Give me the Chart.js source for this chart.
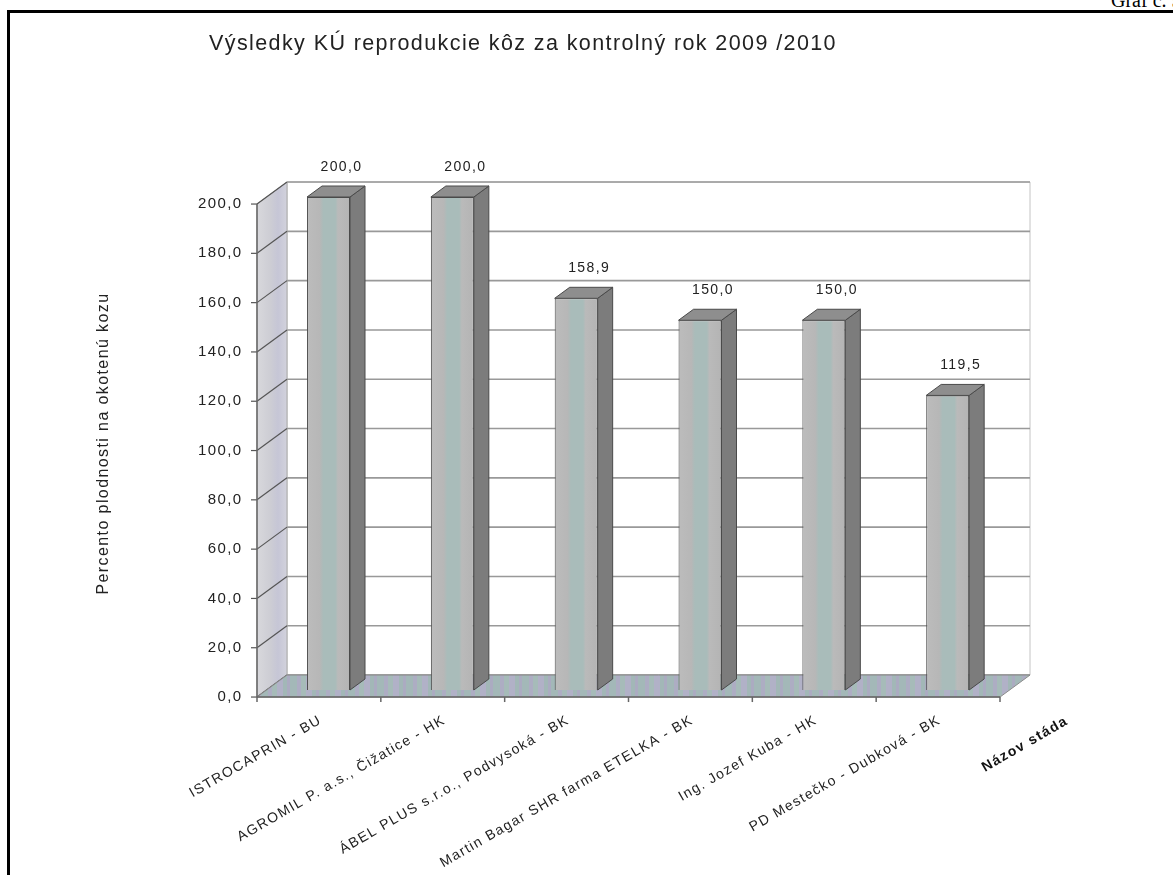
<!DOCTYPE html>
<html>
<head>
<meta charset="utf-8">
<script src="https://cdn.jsdelivr.net/npm/chart.js@4.4.0/dist/chart.umd.min.js"></script>
<style>
  html, body { margin: 0; padding: 0; background: #fff; }
  body { width: 1173px; height: 875px; position: relative; overflow: hidden; }
  #frame { position: absolute; left: 7px; top: 10px; width: 1170px; height: 870px;
           border-top: 3px solid #000; border-left: 3px solid #000; }
  #graf { position: absolute; left: 1111px; top: -10px; font: 20px 'Liberation Serif', 'Times New Roman', serif;
          line-height: 20px; white-space: nowrap; color: #000; }
  #chart { position: absolute; left: 0; top: 0; }
</style>
</head>
<body>
<div id="frame"></div>
<div id="graf">Graf č. 5</div>
<canvas id="chart" width="1173" height="875"></canvas>
<script>
const herds = [
    'ISTROCAPRIN - BU',
    'AGROMIL P. a.s., Čižatice - HK',
    'ÁBEL PLUS s.r.o., Podvysoká - BK',
    'Martin Bagar SHR farma ETELKA - BK',
    'Ing. Jozef Kuba - HK',
    'PD Mestečko - Dubková - BK'
];
const fertility = [200.0, 200.0, 158.9, 150.0, 150.0, 119.5];
const yTickValues = [0, 20, 40, 60, 80, 100, 120, 140, 160, 180, 200];

// 3D box: full depth vector, plane where the bars' front faces sit, bar depth
const depth = { x: 30, y: -22 };
const barPlane = 0.32;
const barDepth = 0.5;
const barPct = 0.347;

const fmt = v => v.toFixed(1).replace('.', ',');

Chart.defaults.font.family = "'Liberation Sans', Arial, sans-serif";
Chart.defaults.color = '#222';

function stripes(ctx, list) {
    const c = document.createElement('canvas');
    c.width = list.reduce((s, p) => s + p[1], 0);
    c.height = 1;
    const g = c.getContext('2d');
    let x = 0;
    list.forEach(([col, w]) => { g.fillStyle = col; g.fillRect(x, 0, w, 1); x += w; });
    return ctx.createPattern(c, 'repeat');
}

function poly(ctx, pts, fill, stroke) {
    ctx.beginPath();
    pts.forEach((p, i) => i ? ctx.lineTo(p[0], p[1]) : ctx.moveTo(p[0], p[1]));
    ctx.closePath();
    if (fill) { ctx.fillStyle = fill; ctx.fill(); }
    if (stroke) { ctx.strokeStyle = stroke; ctx.stroke(); }
}

function line(ctx, x1, y1, x2, y2) {
    ctx.beginPath();
    ctx.moveTo(x1, y1);
    ctx.lineTo(x2, y2);
    ctx.stroke();
}

const box3d = {
    id: 'box3d',
    beforeDraw(chart) {
        chart.ctx.letterSpacing = '1.4px';
    },
    beforeDatasetsDraw(chart) {
        const { ctx, chartArea: a, scales: { x, y } } = chart;
        const fx = -barPlane * depth.x, fy = -barPlane * depth.y;
        const bx = (1 - barPlane) * depth.x, by = (1 - barPlane) * depth.y;
        const fl = a.left + fx, fr = a.right + fx;
        const bl = a.left + bx, br = a.right + bx;
        const y0 = y.getPixelForValue(0);
        const yTop = y.getPixelForValue(yTickValues[yTickValues.length - 1]);

        ctx.save();
        ctx.lineWidth = 1;

        // back wall
        poly(ctx, [[bl, yTop + by], [br, yTop + by], [br, y0 + by], [bl, y0 + by]], '#fff', '#c4c4c4');
        ctx.strokeStyle = '#999';
        ctx.lineWidth = 1.6;
        yTickValues.forEach(v => {
            const py = y.getPixelForValue(v) + by;
            line(ctx, bl, py, br, py);
        });

        // left wall
        const wall = ctx.createLinearGradient(fl, 0, bl, 0);
        wall.addColorStop(0, '#d8d8dc');
        wall.addColorStop(0.45, '#cdcdd4');
        wall.addColorStop(0.7, '#c6c6d6');
        wall.addColorStop(1, '#d2d2dc');
        ctx.lineWidth = 1;
        poly(ctx, [[fl, y0 + fy], [fl, yTop + fy], [bl, yTop + by], [bl, y0 + by]], wall, '#aaaaaa');
        ctx.strokeStyle = '#555';
        ctx.lineWidth = 1.2;
        yTickValues.forEach(v => {
            const py = y.getPixelForValue(v);
            line(ctx, fl, py + fy, bl, py + by);
            line(ctx, fl - 6, py + fy, fl, py + fy);
        });

        // floor
        const floor = stripes(ctx, [['#a3b8b8', 7], ['#adadc3', 4], ['#a6bbb9', 5], ['#b1b1c7', 6], ['#a2b7b7', 4], ['#ababc1', 3]]);
        ctx.lineWidth = 1;
        poly(ctx, [[fl, y0 + fy], [fr, y0 + fy], [br, y0 + by], [bl, y0 + by]], floor, '#8a8a8a');

        // front axis lines and category ticks
        ctx.strokeStyle = '#666';
        ctx.lineWidth = 1.5;
        line(ctx, fl, yTop + fy, fl, y0 + fy);
        line(ctx, fl, y0 + fy, fr, y0 + fy);
        const cw = (a.right - a.left) / herds.length;
        for (let i = 0; i <= herds.length; i++) {
            const px = x.getPixelForValue(0) - cw / 2 + i * cw + fx;
            line(ctx, px, y0 + fy, px, y0 + fy + 5);
        }
        ctx.restore();
    },
    afterDatasetsDraw(chart) {
        const { ctx, chartArea: a } = chart;
        const meta = chart.getDatasetMeta(0);
        const dx = barDepth * depth.x, dy = barDepth * depth.y;
        ctx.save();
        ctx.lineWidth = 1;
        meta.data.forEach((bar, i) => {
            const l = bar.x - bar.width / 2, r = bar.x + bar.width / 2;
            const t = bar.y, b = bar.base;
            poly(ctx, [[r, t], [r + dx, t + dy], [r + dx, b + dy], [r, b]], '#7c7c7c', '#4a4a4a');
            poly(ctx, [[l, t], [r, t], [r + dx, t + dy], [l + dx, t + dy]], '#8e8e8e', '#4a4a4a');

            ctx.fillStyle = '#222';
            ctx.font = "14px 'Liberation Sans', Arial, sans-serif";
            ctx.textAlign = 'center';
            ctx.textBaseline = 'middle';
            ctx.fillText(fmt(fertility[i]), bar.x + dx - 2, t - 30);
        });

        // category axis title, slanted like the labels
        ctx.translate(a.right + 54, a.bottom + 24);
        ctx.rotate(-Math.PI / 6);
        ctx.font = "bold 14px 'Liberation Sans', Arial, sans-serif";
        ctx.textAlign = 'right';
        ctx.textBaseline = 'top';
        ctx.fillStyle = '#111';
        ctx.fillText('Názov stáda', 0, 0);
        ctx.restore();
    }
};

const ctx = document.getElementById('chart').getContext('2d');
const fertilityChart = new Chart(ctx, {
    type: 'bar',
    data: {
        labels: herds,
        datasets: [{
            label: 'Percento plodnosti',
            data: fertility,
            backgroundColor: function (c) {
                const chart = c.chart;
                const a = chart.chartArea;
                if (!a || c.dataIndex === undefined) {
                    return '#b8b8b8';
                }
                const cx = chart.scales.x.getPixelForValue(c.dataIndex);
                const w = (a.right - a.left) / herds.length * barPct;
                const g = chart.ctx.createLinearGradient(cx - w / 2, 0, cx + w / 2, 0);
                g.addColorStop(0, '#bcbcbc');
                g.addColorStop(0.3, '#b7b7b7');
                g.addColorStop(0.38, '#a9bcba');
                g.addColorStop(0.66, '#a9bcba');
                g.addColorStop(0.72, '#bababa');
                g.addColorStop(1, '#b4b4b4');
                return g;
            },
            borderColor: '#4a4a4a',
            borderWidth: 1,
            categoryPercentage: 1,
            barPercentage: barPct
        }]
    },
    options: {
        responsive: false,
        animation: false,
        layout: {
            padding: { left: 36.4, right: 163.4, top: 0, bottom: 0 }
        },
        plugins: {
            legend: { display: false },
            tooltip: { enabled: false },
            title: {
                display: true,
                text: 'Výsledky KÚ reprodukcie kôz za kontrolný rok 2009 /2010',
                font: { size: 21.5, weight: 'normal' },
                color: '#222',
                padding: { top: 31, bottom: 140.2 }
            }
        },
        scales: {
            x: {
                grid: { display: false },
                border: { display: false },
                ticks: {
                    autoSkip: false,
                    minRotation: 30,
                    maxRotation: 30,
                    padding: 14,
                    labelOffset: -8,
                    font: { size: 14 },
                    color: '#222'
                },
                afterFit: function (s) { s.height = 185; }
            },
            y: {
                min: 0,
                max: 200,
                afterBuildTicks: function (s) {
                    s.ticks = yTickValues.map(v => ({ value: v }));
                },
                grid: { display: false },
                border: { display: false },
                ticks: {
                    callback: v => fmt(v),
                    padding: 16,
                    labelOffset: 7,
                    font: { size: 15 },
                    color: '#222'
                },
                title: {
                    display: true,
                    text: 'Percento plodnosti na okotenú kozu',
                    font: { size: 16 },
                    color: '#222',
                    padding: { top: 57.6, bottom: 0 }
                },
                afterFit: function (s) { s.width = 230.2; }
            }
        }
    },
    plugins: [box3d]
});
</script>
</body>
</html>
